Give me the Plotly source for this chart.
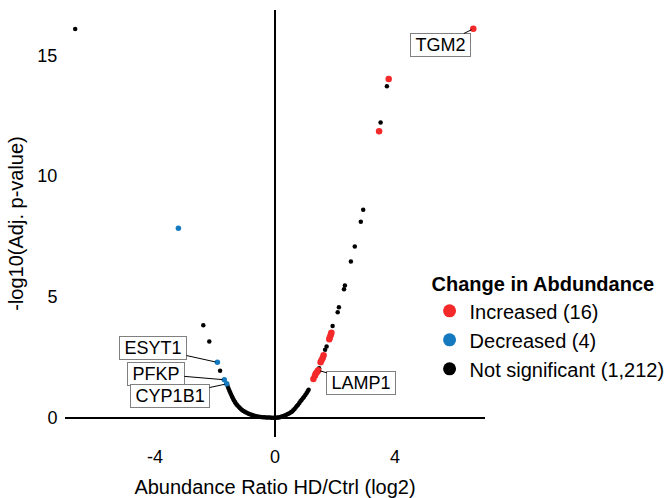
import plotly.graph_objects as go

FONT = "Liberation Sans, Arial, sans-serif"

# ---- data ----
ns_x = [-6.66, -2.39, -2.19, -1.83,
        -1.58, -1.55, -1.52, -1.49, -1.46, -1.43, -1.40, -1.37, -1.34, -1.31, -1.28, -1.25,
        -1.21, -1.17, -1.13, -1.09, -1.05, -1.01, -0.96, -0.91, -0.86, -0.81, -0.76, -0.71,
        -0.65, -0.59, -0.53, -0.47, -0.41, -0.35, -0.29, -0.23, -0.17, -0.11, -0.05,
        0.03, 0.08, 0.13, 0.18, 0.23, 0.28, 0.33, 0.38, 0.43, 0.48, 0.53, 0.57, 0.61, 0.65,
        0.69, 0.73, 0.77, 0.81, 0.85, 0.89, 0.93, 0.97, 1.01, 1.05, 1.09, 1.12,
        1.47, 1.67, 1.72, 1.92, 2.09, 2.13, 2.30, 2.33, 2.53, 2.66, 2.86, 2.94, 3.52, 3.73]
ns_y = [16.09, 3.83, 3.15, 1.94,
        1.31, 1.21, 1.12, 1.03, 0.95, 0.87, 0.79, 0.72, 0.66, 0.60, 0.55, 0.50,
        0.45, 0.40, 0.35, 0.31, 0.28, 0.25, 0.21, 0.18, 0.15, 0.13, 0.11, 0.09,
        0.07, 0.05, 0.04, 0.03, 0.02, 0.015, 0.01, 0.005, 0.003, 0.001, 0.0,
        0.0, 0.005, 0.01, 0.03, 0.05, 0.07, 0.09, 0.12, 0.15, 0.18, 0.22, 0.26, 0.31, 0.36,
        0.42, 0.48, 0.54, 0.61, 0.68, 0.74, 0.80, 0.87, 0.94, 1.01, 1.09, 1.16,
        2.05, 2.81, 2.95, 3.80, 4.37, 4.57, 5.32, 5.47, 6.47, 7.09, 8.11, 8.61, 12.22, 13.72]

dec_x = [-3.22, -1.92, -1.69, -1.61]
dec_y = [7.84, 2.29, 1.57, 1.40]

inc_x = [6.61, 3.79, 3.47, 1.88, 1.86, 1.83, 1.81, 1.62, 1.59, 1.55, 1.52, 1.44, 1.41, 1.36, 1.33, 1.28]
inc_y = [16.10, 14.02, 11.86, 3.52, 3.43, 3.33, 3.25, 2.58, 2.47, 2.38, 2.29, 1.96, 1.90, 1.83, 1.74, 1.60]

legend_names = ["Increased (16)", "Decreased (4)", "Not significant (1,212)"]
legend_colors = ["#F42A2A", "#1479BE", "#000000"]

labels = ["TGM2", "ESYT1", "PFKP", "CYP1B1", "LAMP1"]
label_px = [6.61, -1.92, -1.69, -1.61, 1.44]
label_py = [16.10, 2.29, 1.57, 1.40, 1.96]
label_bx = [5.52, -4.07, -3.97, -3.50, 2.88]
label_by = [15.43, 2.88, 1.81, 0.90, 1.45]

fig = go.Figure()
fig.add_trace(go.Scatter(x=ns_x, y=ns_y, mode="markers", showlegend=False,
                         marker=dict(color="#000000", size=4.5, line=dict(width=0))))
fig.add_trace(go.Scatter(x=dec_x, y=dec_y, mode="markers", showlegend=False,
                         marker=dict(color=legend_colors[1], size=5.5, line=dict(width=0))))
fig.add_trace(go.Scatter(x=inc_x, y=inc_y, mode="markers", showlegend=False,
                         marker=dict(color=legend_colors[0], size=6.5, line=dict(width=0))))
for name, col in zip(legend_names, legend_colors):
    fig.add_trace(go.Scatter(x=[None], y=[None], mode="markers", name=name,
                             marker=dict(color=col, size=13)))

for t, px, py, bx, by in zip(labels, label_px, label_py, label_bx, label_by):
    fig.add_annotation(x=px, y=py, xref="x", yref="y", ax=bx, ay=by, axref="x", ayref="y",
                       text="\u2009" + t + "\u2009", showarrow=True, arrowhead=0, arrowwidth=1,
                       arrowcolor="#000000", standoff=2,
                       font=dict(family=FONT, size=18, color="#000000"),
                       bgcolor="#FFFFFF", bordercolor="#808080", borderwidth=1, borderpad=1)

fig.update_layout(
    width=665, height=498,
    margin=dict(l=65, r=180, t=10, b=61, autoexpand=False),
    paper_bgcolor="white", plot_bgcolor="white",
    font=dict(family=FONT, color="#000000"),
    xaxis=dict(range=[-7.0, 7.0], tickvals=[-4, 0, 4], ticktext=["-4", "0", "4"],
               showgrid=False, zeroline=True, zerolinecolor="#000000", zerolinewidth=2,
               showline=False, ticks="", ticklabelstandoff=7,
               tickfont=dict(size=18, family=FONT), automargin=False,
               title=dict(text="Abundance Ratio HD/Ctrl (log2)", font=dict(size=20, family=FONT),
                          standoff=22)),
    yaxis=dict(range=[-0.8, 16.88], tickvals=[0, 5, 10, 15], ticktext=["0", "5", "10", "15"],
               showgrid=False, zeroline=True, zerolinecolor="#000000", zerolinewidth=2,
               showline=False, ticks="outside", ticklen=3, tickcolor="rgba(0,0,0,0)",
               tickfont=dict(size=18, family=FONT), automargin=False,
               title=dict(text="-log10(Adj. p-value)", font=dict(size=20, family=FONT),
                          standoff=8)),
    legend=dict(x=0.868, y=0.402, xanchor="left", yanchor="top",
                title=dict(text="<b>Change in Abdundance</b>", font=dict(size=20, family=FONT)),
                font=dict(size=20, family=FONT), itemwidth=30, tracegroupgap=0,
                bgcolor="rgba(0,0,0,0)"),
)

fig.write_html("out.html")
